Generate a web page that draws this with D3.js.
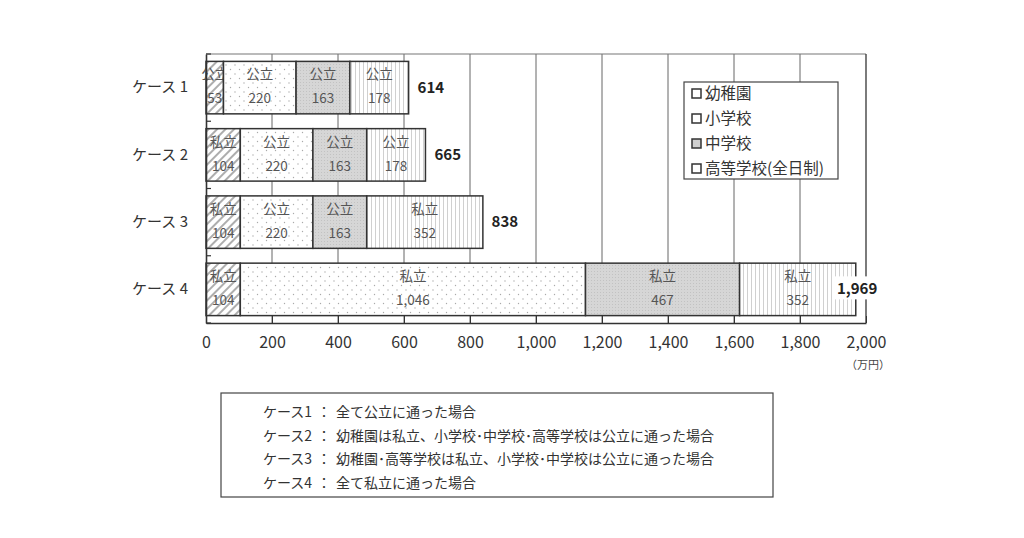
<!DOCTYPE html>
<meta charset="utf-8">
<style>
    body { margin: 0; background: #fff; }
    svg { display: block; font-family: "Noto Sans CJK JP", "Noto Sans", sans-serif; }
    .seg { fill: #555; font-size: 13.5px; text-anchor: middle; }
    .cat { fill: #333; font-size: 15px; text-anchor: end; }
    .note { fill: #333; font-size: 14px; }
</style>
<body>
<script src="https://d3js.org/d3.v7.min.js"></script>
<script>

    // data
    var cases = ["ケース 1", "ケース 2", "ケース 3", "ケース 4"];
    var stages = ["幼稚園", "小学校", "中学校", "高等学校(全日制)"];
    var kinder = [53, 104, 104, 104];
    var elementary = [220, 220, 220, 1046];
    var junior = [163, 163, 163, 467];
    var high = [178, 178, 352, 352];
    var kinderType = ["公立", "私立", "私立", "私立"];
    var elementaryType = ["公立", "公立", "公立", "私立"];
    var juniorType = ["公立", "公立", "公立", "私立"];
    var highType = ["公立", "公立", "私立", "私立"];
    var totals = [614, 665, 838, 1969];
    var xTicks = [0, 200, 400, 600, 800, 1000, 1200, 1400, 1600, 1800, 2000];
    var unitLabel = "（万円）";
    var noteCases = ["ケース1", "ケース2", "ケース3", "ケース4"];
    var noteTexts = [
        "全て公立に通った場合",
        "幼稚園は私立、小学校･中学校･高等学校は公立に通った場合",
        "幼稚園･高等学校は私立、小学校･中学校は公立に通った場合",
        "全て私立に通った場合"
    ];

    var seriesVals = [kinder, elementary, junior, high];
    var seriesTypes = [kinderType, elementaryType, juniorType, highType];
    var patterns = ["p-hatch", "p-dots", "p-grey", "p-vert"];

    var W = 1024, H = 538;
    var margin = { top: 54, right: 158, bottom: 215, left: 206 };
    var width = W - margin.left - margin.right,
        height = H - margin.top - margin.bottom;

    var svg = d3.select("body").append("svg")
        .attr("width", W)
        .attr("height", H);

    // patterns
    var defs = svg.append("defs");
    var ph = defs.append("pattern").attr("id", "p-hatch")
        .attr("patternUnits", "userSpaceOnUse").attr("width", 6).attr("height", 6)
        .attr("patternTransform", "rotate(45)");
    ph.append("rect").attr("width", 6).attr("height", 6).attr("fill", "#fff");
    ph.append("line").attr("x1", 1).attr("x2", 1).attr("y1", 0).attr("y2", 6)
        .attr("stroke", "#999").attr("stroke-width", 1.6);

    var pd = defs.append("pattern").attr("id", "p-dots")
        .attr("patternUnits", "userSpaceOnUse").attr("width", 9).attr("height", 9);
    pd.append("rect").attr("width", 9).attr("height", 9).attr("fill", "#fff");
    pd.append("circle").attr("cx", 2).attr("cy", 2).attr("r", 0.7).attr("fill", "#aaa");
    pd.append("circle").attr("cx", 6.5).attr("cy", 6.5).attr("r", 0.7).attr("fill", "#aaa");

    var pg = defs.append("pattern").attr("id", "p-grey")
        .attr("patternUnits", "userSpaceOnUse").attr("width", 3).attr("height", 3);
    pg.append("rect").attr("width", 3).attr("height", 3).attr("fill", "#d6d6d6");
    pg.append("rect").attr("x", 1).attr("y", 1).attr("width", 1).attr("height", 1).attr("fill", "#c2c2c2");

    var pv = defs.append("pattern").attr("id", "p-vert")
        .attr("patternUnits", "userSpaceOnUse").attr("width", 4).attr("height", 4);
    pv.append("rect").attr("width", 4).attr("height", 4).attr("fill", "#fff");
    pv.append("line").attr("x1", 1.5).attr("x2", 1.5).attr("y1", 0).attr("y2", 4)
        .attr("stroke", "#d0d0d0").attr("stroke-width", 1);

    var g = svg.append("g")
        .attr("transform", "translate(" + margin.left + "," + margin.top + ")");

    // scales
    var x = d3.scaleLinear().domain([0, 2000]).range([0, width]);
    var y = d3.scaleBand().domain(cases).range([0, height]).paddingInner(0.22).paddingOuter(0.11);

    // grid lines
    g.selectAll(".grid").data(xTicks.slice(1, -1)).enter().append("line")
        .attr("x1", d => x(d)).attr("x2", d => x(d))
        .attr("y1", 0).attr("y2", height)
        .attr("stroke", "#666").attr("stroke-width", 1);

    // frame top + right
    g.append("line").attr("x1", 0).attr("x2", width).attr("y1", 0).attr("y2", 0)
        .attr("stroke", "#777").attr("stroke-width", 1.2);
    g.append("line").attr("x1", width).attr("x2", width).attr("y1", 0).attr("y2", height)
        .attr("stroke", "#444").attr("stroke-width", 1.4);

    // stacked segments
    cases.forEach(function (c, i) {
        var start = 0;
        seriesVals.forEach(function (vals, s) {
            var v = vals[i];
            var x0 = x(start), x1 = x(start + v);
            g.append("rect")
                .attr("x", x0).attr("y", y(c))
                .attr("width", x1 - x0).attr("height", y.bandwidth())
                .attr("fill", "url(#" + patterns[s] + ")")
                .attr("stroke", "#333").attr("stroke-width", 1.5);
            var cx = (x0 + x1) / 2;
            g.append("text").attr("class", "seg")
                .attr("x", cx).attr("y", y(c) + 18)
                .text(seriesTypes[s][i]);
            g.append("text").attr("class", "seg")
                .attr("x", cx).attr("y", y(c) + 42)
                .text(d3.format(",")(v));
            start += v;
        });
    });

    // total labels
    cases.forEach(function (c, i) {
        var tx = Math.min(x(totals[i]) + 9, x(2000) - 29);
        var t = g.append("text")
            .attr("x", tx).attr("y", y(c) + y.bandwidth() / 2 + 5)
            .attr("font-size", "15px").attr("font-weight", "bold").attr("fill", "#222")
            .text(d3.format(",")(totals[i]));
        var bb = t.node().getBBox();
        g.insert("rect", function () { return t.node(); })
            .attr("x", bb.x - 2).attr("y", bb.y - 1)
            .attr("width", bb.width + 4).attr("height", bb.height + 2)
            .attr("fill", "#fff");
    });

    // axes
    var xAxis = g.append("g")
        .attr("transform", "translate(0," + height + ")")
        .call(d3.axisBottom(x).tickValues(xTicks).tickFormat(d3.format(",")).tickSize(0).tickPadding(14));
    xAxis.select(".domain").attr("stroke", "#333").attr("stroke-width", 1.6);
    xAxis.selectAll(".tick text").style("font-size", "16px").style("fill", "#333")
        .style("font-family", "'Noto Sans CJK JP', sans-serif");
    xAxis.selectAll(".tick").append("line")
        .attr("y1", -7).attr("y2", 0).attr("stroke", "#333");

    var yAxis = g.append("g")
        .call(d3.axisLeft(y).tickSize(0).tickPadding(18));
    yAxis.select(".domain").attr("stroke", "#333").attr("stroke-width", 1.6);
    yAxis.selectAll(".tick text").attr("class", "cat").style("font-size", "15px").style("fill", "#333")
        .style("font-family", "'Noto Sans CJK JP', sans-serif");

    // category boundary ticks on left axis
    var bounds = [0].concat(cases.slice(1).map(c => y(c) - y.step() * y.paddingInner() / 2), [height]);
    g.selectAll(".ytick").data(bounds).enter().append("line")
        .attr("x1", 0).attr("x2", 5)
        .attr("y1", d => d).attr("y2", d => d)
        .attr("stroke", "#333").attr("stroke-width", 1.2);

    g.append("text")
        .attr("x", width + 2).attr("y", height + 46)
        .attr("text-anchor", "middle").attr("font-size", "11px").attr("fill", "#444")
        .text(unitLabel);

    // legend
    var leg = svg.append("g").attr("transform", "translate(684,82)");
    leg.append("rect").attr("width", 154).attr("height", 97)
        .attr("fill", "#fff").attr("stroke", "#444").attr("stroke-width", 1.2);
    var legendFills = ["#fff", "#fff", "#cfcfcf", "#fff"];
    stages.forEach(function (s, i) {
        var ly = 11 + i * 25;
        leg.append("rect").attr("x", 8).attr("y", ly - 4).attr("width", 9).attr("height", 9)
            .attr("fill", legendFills[i]).attr("stroke", "#333").attr("stroke-width", 1.5);
        leg.append("text").attr("x", 21).attr("y", ly + 6)
            .attr("font-size", "15.5px").attr("fill", "#333").text(s);
    });

    // note box
    var note = svg.append("g").attr("transform", "translate(221,393)");
    note.append("rect").attr("width", 552).attr("height", 104)
        .attr("fill", "#fff").attr("stroke", "#444").attr("stroke-width", 1.2);
    noteCases.forEach(function (c, i) {
        var ny = 24 + i * 23.5;
        note.append("text").attr("class", "note").attr("x", 42).attr("y", ny).text(c);
        note.append("text").attr("class", "note").attr("x", 96).attr("y", ny).text("：");
        note.append("text").attr("class", "note").attr("x", 115).attr("y", ny).text(noteTexts[i]);
    });

</script>
</body>
